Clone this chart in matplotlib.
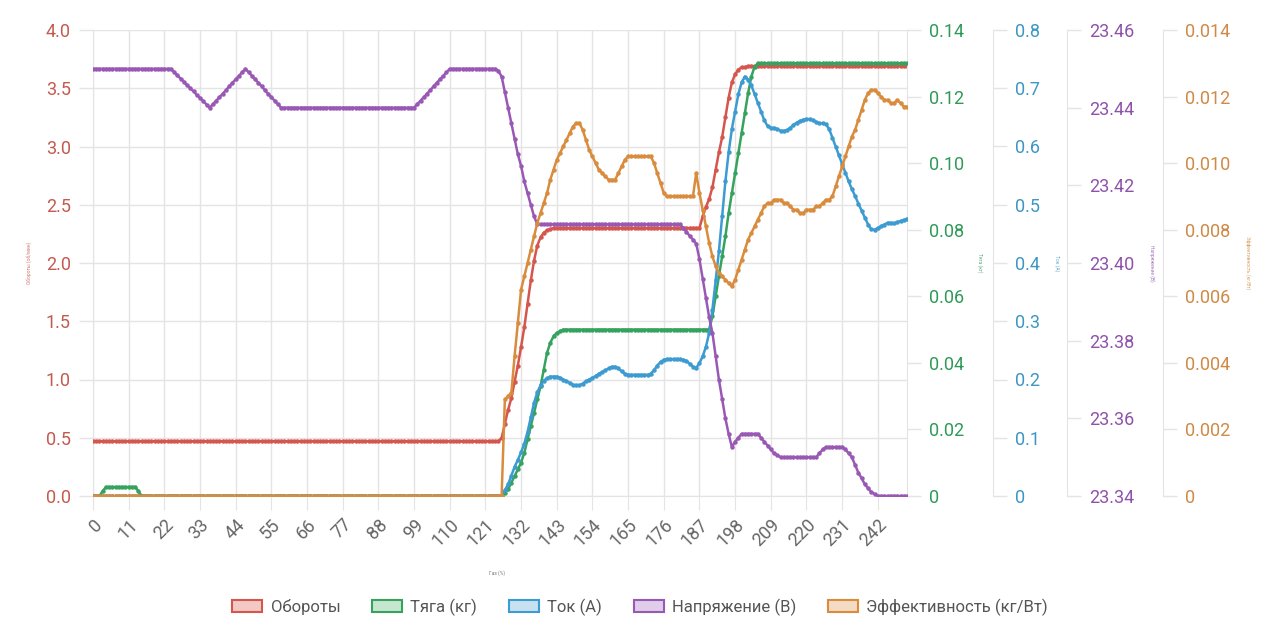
import matplotlib
matplotlib.use("Agg")
import matplotlib.pyplot as plt
from matplotlib.patches import Patch

plt.rcParams['font.family'] = ['Roboto', 'DejaVu Sans']

# ---- data ----
x = list(range(252))
xticks = list(range(0, 243, 11))

oboroty = ([0.47] * 126
           + [0.50, 0.62, 0.74, 0.84, 0.98, 1.12, 1.28, 1.45, 1.65, 1.85, 2.02, 2.15, 2.22, 2.26, 2.28, 2.29]
           + [2.30] * 46
           + [2.40, 2.48, 2.55, 2.65, 2.80, 2.95, 3.08, 3.25, 3.42, 3.55, 3.62, 3.66, 3.68, 3.68]
           + [3.69] * 50)

tyaga = ([0.0] * 3 + [0.0015] + [0.0027] * 10 + [0.0015]
         + [0.0] * 112
         + [0.001, 0.002, 0.004, 0.006, 0.008, 0.010, 0.013, 0.017, 0.021, 0.025, 0.029, 0.033,
            0.038, 0.043, 0.046, 0.048, 0.049, 0.0495]
         + [0.05] * 46
         + [0.054, 0.060, 0.066, 0.072, 0.078, 0.085, 0.091, 0.097, 0.103, 0.109, 0.115, 0.121,
            0.126, 0.129, 0.130]
         + [0.13] * 46)

tok = ([0.0] * 127
       + [0.01, 0.02, 0.035, 0.05, 0.062, 0.075, 0.09, 0.11, 0.135, 0.16, 0.178, 0.19, 0.198,
          0.202, 0.205, 0.205, 0.205, 0.203, 0.2, 0.197, 0.194, 0.191, 0.19, 0.19, 0.193, 0.197,
          0.2, 0.203, 0.206, 0.21, 0.213, 0.216, 0.219, 0.222, 0.222, 0.219, 0.214, 0.21, 0.208,
          0.208, 0.208, 0.208, 0.208, 0.208, 0.208, 0.21, 0.216, 0.224, 0.23, 0.234, 0.235, 0.235,
          0.235, 0.235, 0.235, 0.234, 0.232, 0.227, 0.222, 0.22, 0.228, 0.24, 0.256, 0.28, 0.32,
          0.37, 0.42, 0.48, 0.54, 0.59, 0.63, 0.66, 0.69, 0.71, 0.72, 0.715, 0.705, 0.69, 0.675,
          0.66, 0.645, 0.635, 0.632, 0.632, 0.63, 0.627, 0.627, 0.628, 0.632, 0.637, 0.641, 0.644,
          0.646, 0.647, 0.647, 0.645, 0.642, 0.64, 0.64, 0.638, 0.63, 0.615, 0.6, 0.585, 0.57,
          0.555, 0.54, 0.527, 0.515, 0.502, 0.49, 0.478, 0.466, 0.458, 0.457, 0.46, 0.463, 0.466,
          0.469, 0.469, 0.468, 0.47, 0.472, 0.474, 0.476])

napr = ([23.45] * 25
        + [23.4492, 23.4483, 23.4475, 23.4467, 23.4458, 23.445, 23.4442, 23.4433, 23.4425,
           23.4417, 23.4408, 23.44]
        + [23.4409, 23.4418, 23.4427, 23.4436, 23.4445, 23.4455, 23.4464, 23.4473, 23.4482,
           23.4491, 23.45]
        + [23.4491, 23.4482, 23.4473, 23.4464, 23.4455, 23.4445, 23.4436, 23.4427, 23.4418,
           23.4409, 23.44]
        + [23.44] * 41
        + [23.4409, 23.4418, 23.4427, 23.4436, 23.4445, 23.4455, 23.4464, 23.4473, 23.4482,
           23.4491, 23.45]
        + [23.45] * 14
        + [23.4495, 23.448, 23.444, 23.44, 23.436, 23.432, 23.428, 23.425, 23.421, 23.418,
           23.415, 23.412, 23.41]
        + [23.41] * 44
        + [23.409, 23.408, 23.407, 23.406, 23.405, 23.401, 23.396, 23.391, 23.386, 23.382,
           23.376, 23.37, 23.365, 23.36, 23.356, 23.3526, 23.354, 23.355, 23.356]
        + [23.356] * 5
        + [23.355, 23.354, 23.353, 23.352, 23.351, 23.3505]
        + [23.35] * 12
        + [23.351, 23.352]
        + [23.3526] * 6
        + [23.352, 23.351, 23.35, 23.348, 23.346, 23.3446, 23.343, 23.342, 23.341, 23.3405]
        + [23.34] * 10)

effekt = ([0.0] * 127
          + [0.0029, 0.003, 0.0031, 0.0042, 0.0052, 0.0062, 0.0066, 0.007, 0.0074, 0.0078, 0.0082,
             0.0085, 0.0088, 0.0091, 0.0095, 0.0098, 0.0101, 0.0103, 0.0105, 0.0107, 0.0109,
             0.0111, 0.0112, 0.0112, 0.011, 0.0107, 0.0104, 0.0102, 0.01, 0.0098, 0.0097, 0.0096,
             0.0095, 0.0095, 0.0095, 0.0097, 0.0099, 0.0101, 0.0102]
          + [0.0102] * 7
          + [0.01, 0.0097, 0.0094, 0.0091, 0.009]
          + [0.009] * 8
          + [0.0097, 0.0091, 0.0086, 0.0081, 0.0076, 0.0072, 0.0069, 0.0067, 0.0066, 0.0065,
             0.0064, 0.0063, 0.0065, 0.0068, 0.0071, 0.0074, 0.0077, 0.0079, 0.0081, 0.0083,
             0.0085, 0.0087, 0.0088, 0.0088, 0.0089, 0.0089, 0.0089, 0.0088, 0.0088, 0.0087,
             0.0086, 0.0086, 0.0085, 0.0085, 0.0086, 0.0086, 0.0086, 0.0087, 0.0087, 0.0088,
             0.0089, 0.0089, 0.009, 0.0093, 0.0096, 0.0099, 0.0102, 0.0105, 0.0108, 0.011,
             0.0113, 0.0116, 0.0119, 0.0121, 0.0122, 0.0122, 0.0121, 0.012, 0.0119, 0.0119,
             0.0118, 0.0118, 0.0119, 0.0118, 0.0117, 0.0117])

series = [
    ("Обороты", oboroty, "#d4564c", "#c45a4f", (0, 4.0), [i * 0.5 for i in range(9)], "{:.1f}", "Обороты (об/мин)"),
    ("Тяга (кг)", tyaga, "#35a35e", "#2f9a58", (0, 0.14), [i * 0.02 for i in range(8)], "{:.2f}", "Тяга (кг)"),
    ("Ток (А)", tok, "#3c9bd0", "#3d96c4", (0, 0.8), [i * 0.1 for i in range(9)], "{:.1f}", "Ток (А)"),
    ("Напряжение (В)", napr, "#9a58b5", "#8e52ab", (23.34, 23.46), [23.34 + i * 0.02 for i in range(7)], "{:.2f}", "Напряжение (В)"),
    ("Эффективность (кг/Вт)", effekt, "#d98c3e", "#cf8a45", (0, 0.014), [i * 0.002 for i in range(8)], "{:.3f}", "Эффективность (кг/Вт)"),
]
for s in series:
    assert len(s[1]) == len(x), (s[0], len(s[1]))

fig = plt.figure(figsize=(12.8, 6.4), dpi=100)
L, B, W, H = 93 / 1280, 144 / 640, 814 / 1280, 466 / 640
ax = fig.add_axes([L, B, W, H])

grid_c = "#e4e4e4"
# spine offsets in pixels from the plot's right edge (converted to points below)
offsets_px = [None, 0, 86, 160, 256]
title_x = [29, 980, 1057, 1152, 1248]

axes = []
for i, (name, vals, col, tcol, lim, ticks, fmt, title) in enumerate(series):
    a = ax if i == 0 else ax.twinx()
    a.plot(x, vals, color=col, lw=1.8, marker="o", ms=2.2, zorder=3)
    a.set_ylim(*lim)
    a.set_yticks(ticks)
    labels = []
    for t in ticks:
        s = fmt.format(t)
        if i > 0 and abs(t) < 1e-12:
            s = "0"
        labels.append(s)
    a.set_yticklabels(labels)
    a.tick_params(axis="y", colors=grid_c, labelcolor=tcol, labelsize=13, length=10, width=1, pad=6)
    for sp in a.spines.values():
        sp.set_visible(False)
    if i == 0:
        a.spines["left"].set_visible(True)
        a.spines["left"].set_color(grid_c)
        a.spines["bottom"].set_visible(True)
        a.spines["bottom"].set_color(grid_c)
    else:
        a.spines["right"].set_visible(True)
        a.spines["right"].set_color(grid_c)
        a.spines["right"].set_position(("outward", offsets_px[i] * 0.72))
    rot = 90 if i == 0 else 270
    fig.text(title_x[i] / 1280, 1 - 263 / 640, title, rotation=rot, fontsize=3.5,
             color=tcol, ha="center", va="center", alpha=0.8)
    axes.append(a)

ax.set_xlim(0, 251)
ax.set_xticks(xticks)
ax.set_xticklabels([str(t) for t in xticks], rotation=45, ha="right", rotation_mode="anchor")
ax.tick_params(axis="x", colors=grid_c, labelcolor="#666666", labelsize=13, length=10, pad=4)
ax.grid(True, color=grid_c, lw=1)
ax.set_axisbelow(True)
fig.text(497 / 1280, 1 - 573 / 640, "Газ (%)", fontsize=3.5, color="#777777", ha="center", va="center")

handles = []
light = ["#f2c9c4", "#c6e6d0", "#c8e1f1", "#e0cde9", "#f3dcc3"]
for (name, vals, col, *_), lc in zip(series, light):
    handles.append(Patch(facecolor=lc, edgecolor=col, linewidth=1.5, label=name))
fig.legend(handles=handles, loc="center", bbox_to_anchor=(0.5, 33 / 640), ncol=5, frameon=False,
           fontsize=12, handlelength=1.8, handleheight=0.8, handletextpad=0.5, columnspacing=1.9,
           labelcolor="#555555")

fig.savefig("out.png", dpi=100)
